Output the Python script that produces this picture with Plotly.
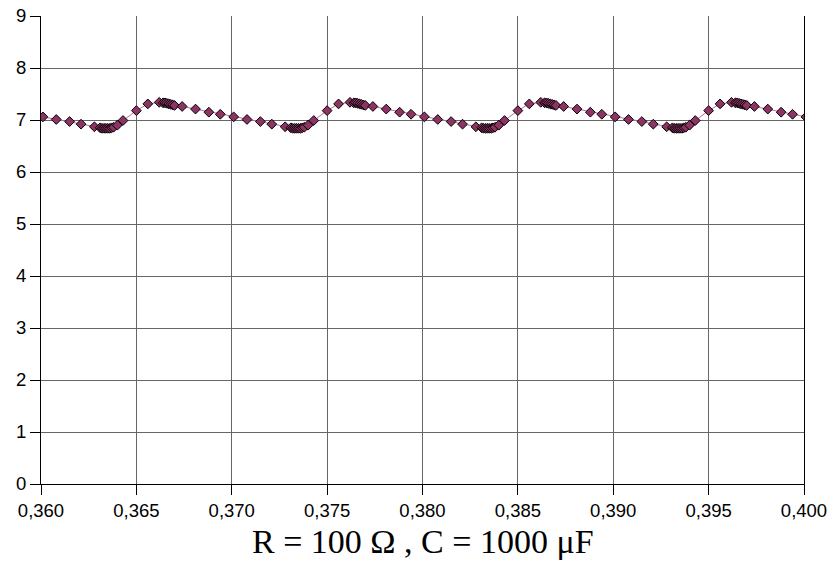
import plotly.graph_objects as go

time_s = [
    0.3601, 0.3608, 0.3615, 0.3621, 0.3628, 0.3631, 0.3632, 0.3633, 0.3634, 0.3635,
    0.3636, 0.3637, 0.3638, 0.3640, 0.3643, 0.3650, 0.3656, 0.3662, 0.3664, 0.3665,
    0.3666, 0.3667, 0.3668, 0.3669, 0.3670, 0.3674, 0.3681, 0.3688, 0.3694,
    0.3701, 0.3708, 0.3715, 0.3721, 0.3728, 0.3731, 0.3732, 0.3733, 0.3734, 0.3735,
    0.3736, 0.3737, 0.3738, 0.3740, 0.3743, 0.3750, 0.3756, 0.3762, 0.3764, 0.3765,
    0.3766, 0.3767, 0.3768, 0.3769, 0.3770, 0.3774, 0.3781, 0.3788, 0.3794,
    0.3801, 0.3808, 0.3815, 0.3821, 0.3828, 0.3831, 0.3832, 0.3833, 0.3834, 0.3835,
    0.3836, 0.3837, 0.3838, 0.3840, 0.3843, 0.3850, 0.3856, 0.3862, 0.3864, 0.3865,
    0.3866, 0.3867, 0.3868, 0.3869, 0.3870, 0.3874, 0.3881, 0.3888, 0.3894,
    0.3901, 0.3908, 0.3915, 0.3921, 0.3928, 0.3931, 0.3932, 0.3933, 0.3934, 0.3935,
    0.3936, 0.3937, 0.3938, 0.3940, 0.3943, 0.3950, 0.3956, 0.3962, 0.3964, 0.3965,
    0.3966, 0.3967, 0.3968, 0.3969, 0.3970, 0.3974, 0.3981, 0.3988, 0.3994,
    0.4001,
]
voltage = [
    7.06, 7.01, 6.97, 6.92, 6.87, 6.85, 6.84, 6.84, 6.84, 6.84,
    6.84, 6.85, 6.86, 6.90, 6.99, 7.18, 7.31, 7.34, 7.33, 7.33,
    7.32, 7.31, 7.30, 7.29, 7.28, 7.26, 7.21, 7.15, 7.11,
    7.06, 7.01, 6.97, 6.92, 6.87, 6.85, 6.84, 6.84, 6.84, 6.84,
    6.84, 6.85, 6.86, 6.90, 6.99, 7.18, 7.31, 7.34, 7.33, 7.33,
    7.32, 7.31, 7.30, 7.29, 7.28, 7.26, 7.21, 7.15, 7.11,
    7.06, 7.01, 6.97, 6.92, 6.87, 6.85, 6.84, 6.84, 6.84, 6.84,
    6.84, 6.85, 6.86, 6.90, 6.99, 7.18, 7.31, 7.34, 7.33, 7.33,
    7.32, 7.31, 7.30, 7.29, 7.28, 7.26, 7.21, 7.15, 7.11,
    7.06, 7.01, 6.97, 6.92, 6.87, 6.85, 6.84, 6.84, 6.84, 6.84,
    6.84, 6.85, 6.86, 6.90, 6.99, 7.18, 7.31, 7.34, 7.33, 7.33,
    7.32, 7.31, 7.30, 7.29, 7.28, 7.26, 7.21, 7.15, 7.11,
    7.06,
]

x_ticks = [0.360, 0.365, 0.370, 0.375, 0.380, 0.385, 0.390, 0.395, 0.400]
x_tick_labels = ["0,360", "0,365", "0,370", "0,375", "0,380", "0,385", "0,390", "0,395", "0,400"]
y_ticks = [0, 1, 2, 3, 4, 5, 6, 7, 8, 9]

title_text = "R = 100 Ω , C = 1000 μF"

fig = go.Figure()
fig.add_trace(go.Scatter(
    x=time_s, y=voltage, mode="lines+markers",
    line=dict(color="#C0709A", width=1),
    marker=dict(symbol="diamond", size=7.5, color="#8E3464",
                line=dict(color="#000000", width=1)),
    showlegend=False,
))

axis_font = dict(family="Liberation Sans, Arial, sans-serif", size=18.5, color="#000000")

fig.update_layout(
    width=833, height=574,
    margin=dict(l=41, r=29, t=16, b=90, pad=0),
    paper_bgcolor="#FFFFFF", plot_bgcolor="#FFFFFF",
    hovermode=False,
    xaxis=dict(
        range=[0.360, 0.400], tickvals=x_ticks, ticktext=x_tick_labels,
        showgrid=True, gridcolor="#666666", gridwidth=1,
        showline=True, linecolor="#000000", linewidth=1,
        ticks="outside", ticklen=10, tickcolor="#000000",
        tickfont=axis_font, zeroline=False, automargin=False,
    ),
    yaxis=dict(
        range=[0, 9], tickvals=y_ticks,
        showgrid=True, gridcolor="#666666", gridwidth=1,
        showline=True, linecolor="#000000", linewidth=1, mirror=True,
        ticks="outside", ticklen=10, tickcolor="#000000",
        tickfont=axis_font, zeroline=False, automargin=False,
    ),
    annotations=[dict(
        text=title_text, xref="paper", yref="paper",
        x=0.500, y=-0.122, xanchor="center", yanchor="middle",
        showarrow=False,
        font=dict(family="Liberation Serif, Times New Roman, serif", size=34, color="#000000"),
    )],
)

fig.write_html(
    "out.html",
    config={"displayModeBar": False},
    post_script="document.body.style.margin='0';document.body.style.overflow='hidden';",
)
